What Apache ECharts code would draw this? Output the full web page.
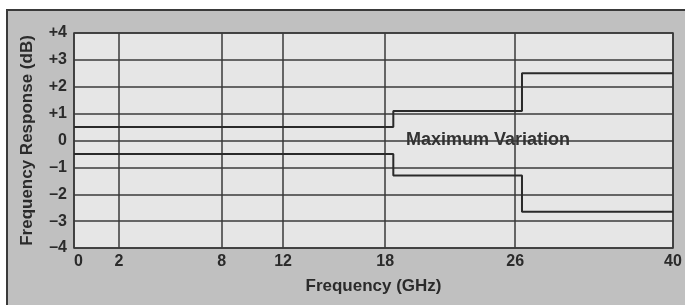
<!DOCTYPE html>
<html>
<head>
<meta charset="utf-8">
<script src="https://cdn.jsdelivr.net/npm/echarts@6/dist/echarts.min.js"></script>
<style>
  html, body { margin: 0; padding: 0; background: #fff; }
  #chart { width: 685px; height: 305px; }
</style>
</head>
<body>
<div id="chart"></div>
<script>
// frequency ticks (GHz) and where the printed scale puts them (0..1 of plot width)
var freqTicks = [0, 2, 8, 12, 18, 26, 40];
var scaleStops = [0, 0.0752, 0.2467, 0.349, 0.5195, 0.7366, 1];

var dbTicks = [-4, -3, -2, -1, 0, 1, 2, 3, 4];

// step limits: frequency where each level starts, and the level (dB)
var upperFreq = [0, 18.5, 26.6, 40];
var upperDb = [0.5, 1.1, 2.5, 2.5];
var lowerFreq = [0, 18.5, 26.6, 40];
var lowerDb = [-0.5, -1.3, -2.65, -2.65];

// printed x scale is not linear, map GHz onto it piecewise
function warp(f) {
    for (var i = 1; i < freqTicks.length; i++) {
        if (f <= freqTicks[i]) {
            var t = (f - freqTicks[i - 1]) / (freqTicks[i] - freqTicks[i - 1]);
            return scaleStops[i - 1] + t * (scaleStops[i] - scaleStops[i - 1]);
        }
    }
    return 1;
}

function pairs(xs, ys) {
    return xs.map(function (x, i) { return [warp(x), ys[i]]; });
}

var tickPos = freqTicks.map(warp);

var labelFont = {
    color: '#2b2b2b',
    fontFamily: 'Liberation Sans, Arial, sans-serif',
    fontWeight: 'bold',
    fontSize: 16
};
var nameFont = {
    color: '#2b2b2b',
    fontFamily: 'Liberation Sans, Arial, sans-serif',
    fontWeight: 'bold',
    fontSize: 17
};

var chart = echarts.init(document.getElementById('chart'));

var option = {
    backgroundColor: '#ffffff',
    animation: false,
    graphic: [
        {
            type: 'rect',
            left: 6, top: 9,
            shape: { width: 700, height: 310 },
            style: { fill: '#c0c0c0', stroke: '#3a3a3a', lineWidth: 2 },
            z: -10
        },
        {
            type: 'text',
            left: 406, top: 131,
            style: {
                text: 'Maximum Variation',
                fill: '#333',
                font: 'bold 18px "Liberation Sans", Arial, sans-serif'
            },
            z: 10
        }
    ],
    grid: {
        left: 74, right: 12, top: 33, bottom: 57,
        show: true,
        backgroundColor: '#e6e6e6',
        borderColor: '#333',
        borderWidth: 1.5
    },
    xAxis: {
        type: 'value',
        min: 0,
        max: 1,
        name: 'Frequency (GHz)',
        nameLocation: 'middle',
        nameGap: 30,
        nameTextStyle: nameFont,
        axisLine: { show: false },
        axisTick: { show: false, customValues: tickPos },
        axisLabel: Object.assign({
            customValues: tickPos,
            margin: 6,
            alignMinLabel: 'left',
            formatter: function (v) {
                var i = tickPos.indexOf(v);
                return i >= 0 ? String(freqTicks[i]) : '';
            }
        }, labelFont),
        splitLine: { show: true, lineStyle: { color: '#3a3a3a', width: 1.5 } }
    },
    yAxis: {
        type: 'value',
        min: -4,
        max: 4,
        interval: 1,
        name: 'Frequency Response (dB)',
        nameLocation: 'middle',
        nameGap: 38,
        nameTextStyle: nameFont,
        axisLine: { show: false },
        axisTick: { show: false },
        axisLabel: Object.assign({
            margin: 7,
            formatter: function (v) {
                if (v > 0) return '+' + v;
                if (v < 0) return '\u2013' + Math.abs(v);
                return '0';
            }
        }, labelFont),
        splitLine: { show: true, lineStyle: { color: '#3a3a3a', width: 1.5 } }
    },
    series: [
        {
            name: 'upper',
            type: 'line',
            step: 'end',
            symbol: 'none',
            data: pairs(upperFreq, upperDb),
            lineStyle: { color: '#2a2a2a', width: 2 }
        },
        {
            name: 'lower',
            type: 'line',
            step: 'end',
            symbol: 'none',
            data: pairs(lowerFreq, lowerDb),
            lineStyle: { color: '#2a2a2a', width: 2 }
        }
    ]
};

chart.setOption(option);
</script>
</body>
</html>
